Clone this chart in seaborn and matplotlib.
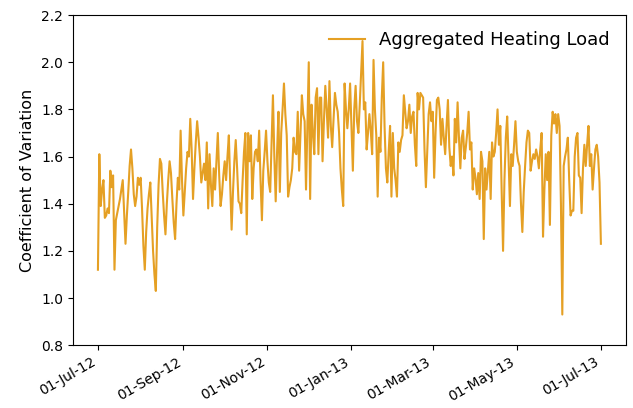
import pandas as pd
import seaborn as sns
import matplotlib.pyplot as plt
import matplotlib.dates as mdates

# daily coefficient of variation
jul_12 = [1.12, 1.61, 1.39, 1.46, 1.50, 1.34, 1.35, 1.38, 1.36, 1.54, 1.47, 1.52, 1.12, 1.33, 1.36, 1.39,
          1.42, 1.46, 1.50, 1.37, 1.23, 1.35, 1.45, 1.56, 1.63, 1.55, 1.44, 1.39, 1.43, 1.51, 1.48]
aug_12 = [1.51, 1.38, 1.22, 1.12, 1.28, 1.38, 1.44, 1.49, 1.35, 1.20, 1.10, 1.03, 1.30, 1.48, 1.59, 1.57,
          1.45, 1.35, 1.27, 1.40, 1.50, 1.58, 1.53, 1.42, 1.32, 1.25, 1.40, 1.51, 1.46, 1.71, 1.50]
sep_12 = [1.35, 1.45, 1.55, 1.62, 1.60, 1.76, 1.63, 1.42, 1.55, 1.66, 1.75, 1.68, 1.60, 1.49, 1.53, 1.57,
          1.50, 1.66, 1.38, 1.61, 1.48, 1.39, 1.55, 1.46, 1.58, 1.70, 1.52, 1.39, 1.44, 1.52]
oct_12 = [1.58, 1.50, 1.60, 1.69, 1.48, 1.29, 1.45, 1.58, 1.67, 1.55, 1.41, 1.40, 1.36, 1.50, 1.62, 1.70,
          1.27, 1.70, 1.58, 1.69, 1.42, 1.55, 1.62, 1.63, 1.58, 1.71, 1.50, 1.33, 1.54, 1.62, 1.71]
nov_12 = [1.58, 1.49, 1.45, 1.66, 1.86, 1.60, 1.41, 1.62, 1.79, 1.45, 1.70, 1.80, 1.91, 1.78, 1.69, 1.43,
          1.47, 1.50, 1.55, 1.68, 1.62, 1.61, 1.79, 1.54, 1.70, 1.86, 1.78, 1.75, 1.46, 1.72]
dec_12 = [2.00, 1.42, 1.82, 1.70, 1.61, 1.85, 1.89, 1.61, 1.85, 1.85, 1.58, 1.75, 1.90, 1.80, 1.68, 1.92,
          1.73, 1.64, 1.76, 1.87, 1.82, 1.79, 1.70, 1.55, 1.46, 1.39, 1.91, 1.80, 1.72, 1.80, 1.91]
jan_13 = [1.73, 1.54, 1.80, 1.90, 1.75, 1.70, 1.82, 1.95, 2.09, 1.80, 1.83, 1.63, 1.70, 1.78, 1.71, 1.61,
          2.01, 1.80, 1.69, 1.43, 1.68, 1.62, 1.85, 2.00, 1.73, 1.55, 1.49, 1.62, 1.73, 1.43, 1.70]
feb_13 = [1.55, 1.50, 1.43, 1.66, 1.62, 1.67, 1.69, 1.86, 1.79, 1.72, 1.75, 1.82, 1.70, 1.77, 1.79, 1.65,
          1.56, 1.87, 1.80, 1.87, 1.86, 1.85, 1.63, 1.47, 1.62, 1.78, 1.83, 1.75]
mar_13 = [1.79, 1.51, 1.70, 1.84, 1.85, 1.80, 1.65, 1.76, 1.68, 1.61, 1.73, 1.84, 1.64, 1.56, 1.60, 1.52,
          1.76, 1.66, 1.83, 1.68, 1.55, 1.68, 1.71, 1.59, 1.64, 1.70, 1.79, 1.63, 1.66, 1.46, 1.55]
apr_13 = [1.51, 1.44, 1.53, 1.42, 1.62, 1.58, 1.25, 1.55, 1.46, 1.54, 1.62, 1.42, 1.66, 1.60, 1.62, 1.70,
          1.80, 1.65, 1.73, 1.45, 1.20, 1.50, 1.68, 1.77, 1.59, 1.39, 1.61, 1.56, 1.65, 1.75]
may_13 = [1.62, 1.58, 1.56, 1.40, 1.28, 1.45, 1.56, 1.66, 1.71, 1.70, 1.54, 1.58, 1.61, 1.59, 1.63, 1.60,
          1.55, 1.63, 1.70, 1.26, 1.46, 1.61, 1.50, 1.62, 1.31, 1.69, 1.79, 1.74, 1.78, 1.70, 1.78]
jun_13 = [1.73, 1.40, 0.93, 1.56, 1.60, 1.63, 1.68, 1.50, 1.35, 1.37, 1.37, 1.60, 1.68, 1.70, 1.52, 1.51,
          1.36, 1.55, 1.65, 1.56, 1.65, 1.73, 1.56, 1.61, 1.46, 1.55, 1.63, 1.65, 1.60, 1.49]
jul_13 = [1.23]

start_date = "2012-07-01"
series_label = "Aggregated Heating Load"
line_color = "#E5A024"

cv = jul_12 + aug_12 + sep_12 + oct_12 + nov_12 + dec_12 + jan_13 + feb_13 + mar_13 + apr_13 + may_13 + jun_13 + jul_13
df = pd.DataFrame({"date": pd.date_range(start_date, periods=len(cv), freq="D"), "cv": cv})

fig = plt.figure(figsize=(6.33, 4.08), dpi=100)
ax = fig.add_axes([0.115, 0.154, 0.874, 0.809])

sns.lineplot(data=df, x="date", y="cv", color=line_color, linewidth=1.5, label=series_label, ax=ax)

ax.set_ylim(0.8, 2.2)
ax.set_xlabel(None)
ax.set_ylabel("Coefficient of Variation", fontsize=11.5)

ax.xaxis.set_major_locator(mdates.MonthLocator(bymonth=[1, 3, 5, 7, 9, 11]))
ax.xaxis.set_major_formatter(mdates.DateFormatter("%d-%b-%y"))
plt.setp(ax.get_xticklabels(), rotation=30, ha="right")

ax.legend(loc="upper right", frameon=False, fontsize=13)

fig.savefig("out.png", dpi=100)
